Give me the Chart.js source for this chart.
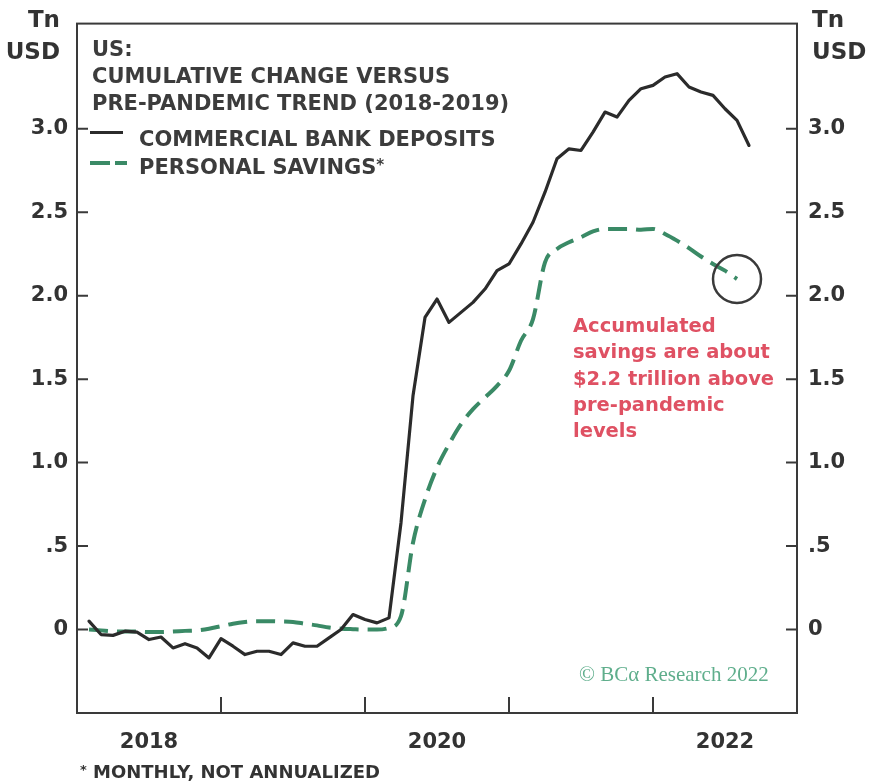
<!DOCTYPE html>
<html>
<head>
<meta charset="utf-8">
<title>US deposits vs savings</title>
<script src="https://cdn.jsdelivr.net/npm/chart.js@4.4.1/dist/chart.umd.min.js"></script>
<style>
  html,body{margin:0;padding:0;background:#fff;}
  #wrap{position:relative;width:869px;height:783px;overflow:hidden;
        font-family:"DejaVu Sans",Lato,sans-serif;font-weight:700;color:#3c3c3c;}
  #wrap canvas{position:absolute;left:0;top:0;}
  .txt{position:absolute;white-space:nowrap;}
  .unit{font-size:23px;line-height:32px;color:#333;}
  .title{left:92px;top:36px;font-size:21px;line-height:27px;}
  .leg{left:139px;font-size:21px;line-height:27px;}
  .swatch{position:absolute;}
  .note{left:573px;top:313px;font-size:19.5px;line-height:26.3px;color:#df5163;}
  .mark{left:579px;top:662px;font-family:"Liberation Serif","DejaVu Serif",serif;
        font-weight:400;font-size:21px;color:#5fae8c;}
  .foot{left:80px;top:760px;font-size:18px;line-height:24px;color:#333;}
  sup{font-size:72%;vertical-align:top;position:relative;top:-2px;}
</style>
</head>
<body>
<div id="wrap">
  <canvas id="chart" width="869" height="783"></canvas>

  <!-- unit labels -->
  <div class="txt unit" style="right:809px;top:3px;text-align:right">Tn<br>USD</div>
  <div class="txt unit" style="left:812px;top:3px">Tn<br>USD</div>

  <!-- title block -->
  <div class="txt title">US:<br>CUMULATIVE CHANGE VERSUS<br>PRE-PANDEMIC TREND (2018-2019)</div>

  <!-- legend -->
  <div class="swatch" style="left:90px;top:131px;width:33px;height:3px;background:#2b2b2b"></div>
  <div class="txt leg" style="top:126px">COMMERCIAL BANK DEPOSITS</div>
  <div class="swatch" style="left:90px;top:161px;width:20px;height:4px;background:#3a8a66"></div>
  <div class="swatch" style="left:115px;top:161px;width:12px;height:4px;background:#3a8a66"></div>
  <div class="txt leg" style="top:154px">PERSONAL SAVINGS<sup>*</sup></div>

  <!-- annotation -->
  <div class="txt note">Accumulated<br>savings are about<br>$2.2 trillion above<br>pre-pandemic<br>levels</div>

  <div class="txt mark">© BCα Research 2022</div>
  <div class="txt foot"><sup>*</sup> MONTHLY, NOT ANNUALIZED</div>
</div>

<script>
/* -----------------------------------------------------------
   US: cumulative change vs pre-pandemic trend (Tn USD)
   monthly points, Feb 2018 → Sep 2022
----------------------------------------------------------- */

/* ---------- data ---------- */
const months = [
  '2018-02','2018-03','2018-04','2018-05','2018-06','2018-07','2018-08','2018-09','2018-10','2018-11','2018-12',
  '2019-01','2019-02','2019-03','2019-04','2019-05','2019-06','2019-07','2019-08','2019-09','2019-10','2019-11','2019-12',
  '2020-01','2020-02','2020-03','2020-04','2020-05','2020-06','2020-07','2020-08','2020-09','2020-10','2020-11','2020-12',
  '2021-01','2021-02','2021-03','2021-04','2021-05','2021-06','2021-07','2021-08','2021-09','2021-10','2021-11','2021-12',
  '2022-01','2022-02','2022-03','2022-04','2022-05','2022-06','2022-07','2022-08','2022-09'
];

const deposits = [
   0.05,-0.03,-0.035,-0.01,-0.015,-0.06,-0.045,-0.11,-0.085,-0.11,-0.17,
  -0.055,-0.10,-0.15,-0.13,-0.13,-0.15,-0.08,-0.10,-0.10,-0.05, 0.00, 0.09,
   0.06, 0.04, 0.07, 0.64, 1.40, 1.87, 1.98, 1.84, 1.90, 1.96, 2.04, 2.15,
   2.19, 2.31, 2.44, 2.62, 2.82, 2.88, 2.87, 2.98, 3.10, 3.07, 3.17, 3.24,
   3.26, 3.31, 3.33, 3.25, 3.22, 3.20, 3.12, 3.05, 2.90
];

const savings = [
   0.00,-0.005,-0.01,-0.012,-0.012,-0.015,-0.015,-0.012,-0.008,-0.005, 0.005,
   0.02, 0.035, 0.045, 0.05, 0.05, 0.048, 0.045, 0.035, 0.025, 0.012, 0.005, 0.002,
   0.00, 0.00, 0.01, 0.08, 0.52, 0.78, 0.97, 1.11, 1.23, 1.32, 1.39, 1.46,
   1.55, 1.73, 1.86, 2.20, 2.28, 2.32, 2.35, 2.385, 2.40, 2.40, 2.40, 2.395,
   2.40, 2.37, 2.33, 2.285, 2.235, 2.19, 2.15, 2.10
];

const yearLabels = ['2018','2020','2022'];          // centred mid-year
const yearMarks  = ['2019','2020','2021','2022'];   // inward ticks at Jan
const yTicks     = [0, 0.5, 1, 1.5, 2, 2.5, 3];

/* ---------- helpers ---------- */
const BASE    = 2018;
const monthIx = m => (+m.slice(0,4) - BASE)*12 + (+m.slice(5,7) - 1);
const yearIx  = y => (+y - BASE)*12;
const pts     = arr => arr.map((v,i)=>({ x: monthIx(months[i]), y: v }));
const COLORS  = { dep:'#2b2b2b', sav:'#3a8a66', axis:'#3a3a3a', txt:'#333' };
const tickFont = { family:'"DejaVu Sans", Lato, sans-serif', size:21, weight:'700' };
const yLabel  = v => v === 0 ? '0' : v === 0.5 ? '.5' : v.toFixed(1);

/* ---------- frame + inward ticks + circle ---------- */
const framePlugin = {
  id:'frame',
  afterDatasetsDraw(chart){
    const { ctx, chartArea:a, scales } = chart;
    ctx.save();
    ctx.strokeStyle = COLORS.axis;
    ctx.lineWidth = 2;
    ctx.strokeRect(a.left, a.top, a.right-a.left, a.bottom-a.top);

    ctx.beginPath();
    yTicks.forEach(v=>{
      const y = scales.y.getPixelForValue(v);
      ctx.moveTo(a.left, y);  ctx.lineTo(a.left+11, y);
      ctx.moveTo(a.right, y); ctx.lineTo(a.right-11, y);
    });
    yearMarks.forEach(yr=>{
      const x = scales.x.getPixelForValue(yearIx(yr));
      ctx.moveTo(x, a.bottom); ctx.lineTo(x, a.bottom-16);
    });
    ctx.stroke();

    /* circle round the latest savings reading */
    const meta = chart.getDatasetMeta(1);
    const last = meta.data[meta.data.length-1];
    ctx.beginPath();
    ctx.lineWidth = 2.5;
    ctx.arc(last.x, last.y, 24, 0, Math.PI*2);
    ctx.stroke();
    ctx.restore();
  }
};

/* ---------- chart ---------- */
new Chart(document.getElementById('chart'), {
  type:'line',
  data:{
    datasets:[
      { label:'Commercial bank deposits', data:pts(deposits),
        borderColor:COLORS.dep, borderWidth:3.2, tension:0,
        pointRadius:0, borderJoinStyle:'round', borderCapStyle:'round' },
      { label:'Personal savings', data:pts(savings),
        borderColor:COLORS.sav, borderWidth:4, borderDash:[19,9],
        cubicInterpolationMode:'monotone', pointRadius:0 }
    ]
  },
  options:{
    responsive:false, animation:false,
    layout:{ padding:{ top:21 } },
    plugins:{ legend:{display:false}, tooltip:{enabled:false} },
    scales:{
      x:{ type:'linear', min:0, max:60,
          grid:{ display:false, drawTicks:false }, border:{ display:false },
          afterBuildTicks: s => { s.ticks = yearLabels.map(y=>({ value: yearIx(y)+6 })); },
          afterFit: s => { s.height = 70; },
          ticks:{ font:tickFont, color:COLORS.txt, padding:17, maxRotation:0,
                  autoSkip:false, callback: v => String(BASE + Math.floor(v/12)) } },
      y:{ position:'left', min:-0.5, max:3.63,
          grid:{ display:false, drawTicks:false }, border:{ display:false },
          afterBuildTicks: s => { s.ticks = yTicks.map(v=>({ value:v })); },
          afterFit: s => { s.width = 77; },
          ticks:{ font:tickFont, color:COLORS.txt, padding:9, callback:yLabel } },
      y2:{ position:'right', min:-0.5, max:3.63,
          grid:{ display:false, drawTicks:false }, border:{ display:false },
          afterBuildTicks: s => { s.ticks = yTicks.map(v=>({ value:v })); },
          afterFit: s => { s.width = 72; },
          ticks:{ font:tickFont, color:COLORS.txt, padding:11, callback:yLabel } }
    }
  },
  plugins:[framePlugin]
});
</script>
</body>
</html>
